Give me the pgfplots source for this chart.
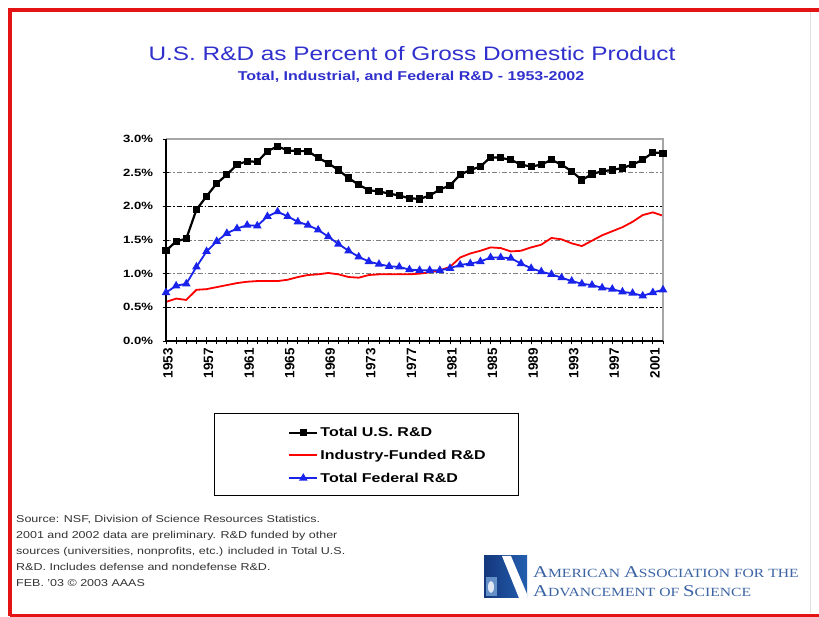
\documentclass[border=0pt]{standalone}
\usepackage{pgfplots}
\usepackage{pgfplotstable}
\pgfplotsset{compat=1.18}
\usepackage{fontspec}
\setmainfont{Liberation Sans}[FakeStretch=1.25]
\newfontfamily\plainsans{Liberation Sans}
\newfontfamily\logoserif{Liberation Serif}[FakeStretch=1.25]
\definecolor{titleblue}{RGB}{48,48,205}
\definecolor{logoblue}{RGB}{60,100,165}
\definecolor{logodark}{RGB}{20,55,125}
\definecolor{logomid}{RGB}{35,95,175}
\definecolor{borderred}{RGB}{228,20,20}
\definecolor{fedblue}{RGB}{25,35,235}

% R&D as percent of GDP, 1953-2002
\pgfplotstableread{
year total industry federal
1953 1.34 0.58 0.72
1954 1.48 0.63 0.82
1955 1.52 0.61 0.85
1956 1.95 0.76 1.10
1957 2.15 0.77 1.33
1958 2.34 0.80 1.48
1959 2.47 0.83 1.60
1960 2.62 0.86 1.67
1961 2.67 0.88 1.72
1962 2.66 0.89 1.71
1963 2.82 0.89 1.85
1964 2.89 0.89 1.92
1965 2.83 0.91 1.85
1966 2.82 0.95 1.77
1967 2.82 0.98 1.72
1968 2.72 0.99 1.65
1969 2.64 1.01 1.55
1970 2.54 0.99 1.44
1971 2.42 0.95 1.34
1972 2.32 0.94 1.25
1973 2.24 0.98 1.18
1974 2.22 0.99 1.14
1975 2.19 0.99 1.11
1976 2.16 0.99 1.10
1977 2.12 0.99 1.06
1978 2.11 1.00 1.05
1979 2.16 1.02 1.05
1980 2.25 1.05 1.05
1981 2.31 1.10 1.08
1982 2.47 1.24 1.13
1983 2.54 1.30 1.15
1984 2.59 1.34 1.18
1985 2.73 1.39 1.24
1986 2.72 1.38 1.24
1987 2.69 1.33 1.23
1988 2.62 1.34 1.15
1989 2.59 1.39 1.08
1990 2.62 1.43 1.03
1991 2.69 1.53 0.99
1992 2.62 1.51 0.94
1993 2.52 1.45 0.89
1994 2.39 1.41 0.85
1995 2.48 1.49 0.83
1996 2.52 1.57 0.79
1997 2.54 1.63 0.77
1998 2.57 1.69 0.73
1999 2.62 1.77 0.71
2000 2.69 1.87 0.67
2001 2.80 1.91 0.72
2002 2.79 1.86 0.76
}\rdtable

\begin{document}
\begin{tikzpicture}[x=1pt,y=1pt]
\path[use as bounding box] (0,0) rectangle (819,617);
\fill[white] (0,0) rectangle (819,617);

% page frame
\draw[borderred, line width=4pt] (10,1) -- (10,607) -- (819,607);
\draw[borderred, line width=3pt] (10,1.5) -- (819,1.5);
\draw[black!12, line width=0.8pt] (810,4) -- (810,605);

% titles
\node[anchor=base, inner sep=0, text=titleblue, font=\fontsize{19.5}{22}\selectfont] at (412,556) {U.S. R\&D as Percent of Gross Domestic Product};
\node[anchor=base, inner sep=0, text=titleblue, font=\bfseries\fontsize{12.8}{15}\selectfont] at (411,536) {Total, Industrial, and Federal R\&D - 1953-2002};

\begin{axis}[
  at={(166pt,276pt)}, anchor=south west,
  scale only axis, width=497pt, height=202pt,
  xmin=1953, xmax=2002, ymin=0, ymax=3,
  clip=false,
  axis line style={draw=none},
  tick pos=left,
  xtick={1953,1957,...,2001},
  xticklabels={1953,1957,1961,1965,1969,1973,1977,1981,1985,1989,1993,1997,2001},
  minor xtick={1953,1954,...,2002},
  ytick={0,0.5,...,3},
  yticklabels={0.0\%,0.5\%,1.0\%,1.5\%,2.0\%,2.5\%,3.0\%},
  tick align=center,
  major tick length=7pt, minor tick length=7pt,
  every tick/.style={black, line width=0.9pt},
  xticklabel style={rotate=90, anchor=east, font=\plainsans\bfseries\fontsize{13.5}{14}\selectfont, yshift=-2pt},
  yticklabel style={font=\bfseries\fontsize{10.5}{12}\selectfont, xshift=-6pt},
  ymajorgrids=true,
  major grid style={black!50, dash pattern=on 5pt off 2pt on 1.5pt off 2pt, line width=0.8pt},
  extra y ticks={0.5,2.0},
  extra y tick labels={},
  extra y tick style={grid=major, major grid style={black, dash pattern=on 5pt off 2pt on 1.5pt off 2pt, line width=1.1pt}, major tick length=0pt},
  legend cell align=left,
  legend style={draw=none, fill=none, at={(0.2455,-0.416)}, anchor=north west,
    font=\bfseries\fontsize{12.8}{14}\selectfont, row sep=8pt, inner sep=0pt},
  legend image code/.code={\draw[mark repeat=2,mark phase=2,#1] plot coordinates {(0pt,0pt) (14pt,0pt) (28pt,0pt)};},
]
\addplot[black, line width=2.2pt, mark=square*, mark size=2.5pt] table[x=year, y=total] {\rdtable};
\addlegendentry{Total U.S. R\&D}
\addplot[red, line width=1.8pt] table[x=year, y=industry] {\rdtable};
\addlegendentry{Industry-Funded R\&D}
\addplot[fedblue, line width=1.8pt, mark=triangle*, mark size=3.2pt] table[x=year, y=federal] {\rdtable};
\addlegendentry{Total Federal R\&D}
% plot-area frame
\draw[black!35, line width=1.3pt] (rel axis cs:0,1) -- (rel axis cs:1,1) -- (rel axis cs:1,0);
\draw[black, line width=1.3pt] (rel axis cs:0,1) -- (rel axis cs:0,0) -- (rel axis cs:1,0);
\end{axis}

% legend frame
\draw[black, line width=1pt] (214,121) rectangle (518,203);

% source note
\node[anchor=north west, align=left, inner sep=0, text=black!80, font=\fontsize{10}{16}\selectfont] at (16,102)
  {Source: NSF, Division of Science Resources Statistics.\\
   2001 and 2002 data are preliminary. R\&D funded by other\\
   sources (universities, nonprofits, etc.) included in Total U.S.\\
   R\&D. Includes defense and nondefense R\&D.\\
   FEB. ’03 © 2003 AAAS};

% AAAS mark
\shade[left color=logodark, right color=logomid] (484,19) rectangle (527,61);
\fill[logomid!70!white] (486,21) rectangle (497,40);
\fill[white!85!logomid] (491,30) ellipse (3pt and 6pt);
\fill[white] (502,61) -- (511,61) -- (527,23) -- (527,19) -- (519,19) -- cycle;
\node[anchor=base west, inner sep=0, text=logoblue] at (533,39)
  {\logoserif\fontsize{16.5}{18}\selectfont A\fontsize{12.5}{18}\selectfont MERICAN
   \fontsize{16.5}{18}\selectfont A\fontsize{12.5}{18}\selectfont SSOCIATION FOR THE};
\node[anchor=base west, inner sep=0, text=logoblue] at (533,20)
  {\logoserif\fontsize{16.5}{18}\selectfont A\fontsize{12.5}{18}\selectfont DVANCEMENT OF
   \fontsize{16.5}{18}\selectfont S\fontsize{12.5}{18}\selectfont CIENCE};
\end{tikzpicture}
\end{document}
